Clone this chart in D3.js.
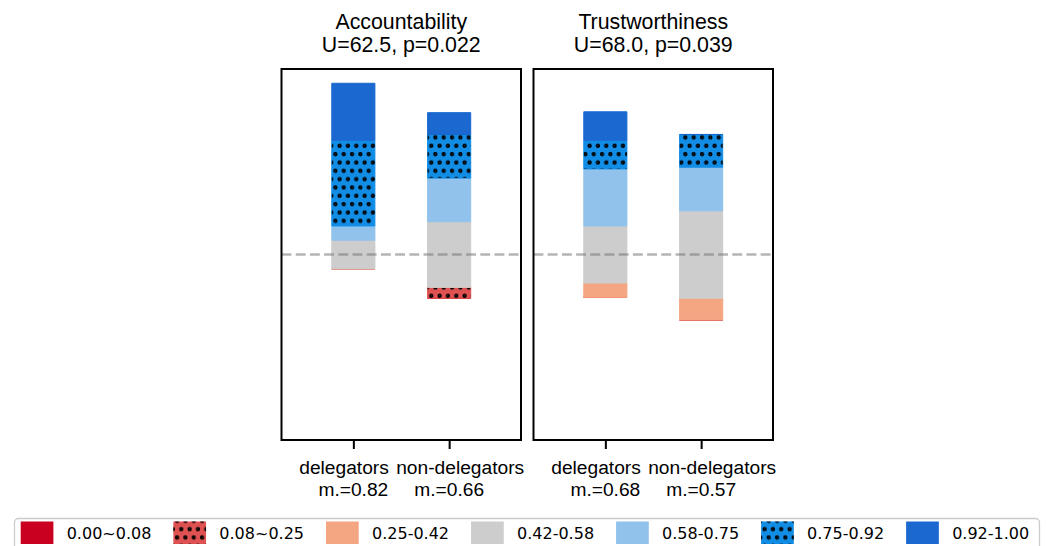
<!DOCTYPE html>
<html>
<head>
<meta charset="utf-8">
<script src="https://cdn.jsdelivr.net/npm/d3@7"></script>
<style>
  html, body { margin: 0; padding: 0; background: #fff; }
  svg { display: block; }
</style>
</head>
<body>
<svg id="chart" width="1046" height="546"></svg>
<script>
// Score bins (Likert-style ratings rescaled to 0..1)
const binLabels = ["0.00~0.08", "0.08~0.25", "0.25-0.42", "0.42-0.58", "0.58-0.75", "0.75-0.92", "0.92-1.00"];
const binColors = ["#ca0020", "#df5251", "#f4a582", "#cdcdcd", "#90c2eb", "#128de6", "#1a68d0"];
const binHatched = [false, true, false, false, false, true, false];
const neutralBin = 3;

// Panels
const metrics = ["Accountability", "Trustworthiness"];
const testStats = ["U=62.5, p=0.022", "U=68.0, p=0.039"];
const groups = ["delegators", "non-delegators"];
const groupMeans = [[0.82, 0.66], [0.68, 0.57]];

// Respondent counts per bin: [delegators, non-delegators]
const accountabilityCounts = [[0, 0, 0, 2, 1, 6, 4], [0, 1, 0, 6, 4, 4, 2]];
const trustworthinessCounts = [[0, 0, 1, 4, 4, 2, 2], [0, 0, 2, 8, 4, 3, 0]];
const panelCounts = [accountabilityCounts, trustworthinessCounts];

const svg = d3.select("#chart");
const defs = svg.append("defs");

// Dot hatch used on two of the bins
const pat = defs.append("pattern")
  .attr("id", "dots")
  .attr("patternUnits", "userSpaceOnUse")
  .attr("width", 8.333).attr("height", 16.667);
[[2.08, 4.17], [6.25, 12.5]].forEach(([cx, cy]) => {
  pat.append("circle").attr("cx", cx).attr("cy", cy).attr("r", 1.3)
    .attr("fill", "none").attr("stroke", "#000").attr("stroke-width", 1.7);
});

const plotTop = 69, plotBottom = 440;
const panelX = [[281.5, 521], [533.5, 773]];
const barWidth = 0.45;
const titleFont = "'Liberation Sans', Arial, Helvetica, sans-serif";
const tickFontSize = 19.2;

const y = d3.scaleLinear().domain([-100, 100]).range([plotBottom, plotTop]);

function segPath(xl, xr, y0, y1) {
  const p = d3.path();
  p.moveTo(xl, y1); p.lineTo(xr, y1); p.lineTo(xr, y0); p.lineTo(xl, y0); p.closePath();
  return p.toString();
}

metrics.forEach((metric, pi) => {
  const [x0, x1] = panelX[pi];
  const x = d3.scaleLinear().domain([-0.75, 1.75]).range([x0, x1]);
  const g = svg.append("g");

  groups.forEach((grp, gi) => {
    const counts = panelCounts[pi][gi];
    const n = d3.sum(counts);
    const pct = counts.map(c => c / n * 100);
    // diverging stack: neutral bin is split around zero
    let base = -(d3.sum(pct.slice(0, neutralBin)) + pct[neutralBin] / 2);
    const xl = x(gi - barWidth / 2), xr = x(gi + barWidth / 2);
    pct.forEach((v, bi) => {
      const d = segPath(xl, xr, y(base), y(base + v));
      g.append("path").attr("d", d)
        .attr("fill", binColors[bi])
        .attr("stroke", binColors[bi]).attr("stroke-width", 1);
      if (binHatched[bi] && v > 0) {
        g.append("path").attr("d", d).attr("fill", "url(#dots)");
      }
      base += v;
    });
  });

  // zero reference line
  g.append("line")
    .attr("x1", x0).attr("x2", x1)
    .attr("y1", y(0)).attr("y2", y(0))
    .attr("stroke", "#777").attr("stroke-opacity", 0.55)
    .attr("stroke-width", 2.6).attr("stroke-dasharray", "9.9,4.3");

  // frame
  g.append("rect")
    .attr("x", x0).attr("y", plotTop)
    .attr("width", x1 - x0).attr("height", plotBottom - plotTop)
    .attr("fill", "none").attr("stroke", "#000").attr("stroke-width", 2);

  // x axis ticks and two-line labels
  const axis = d3.axisBottom(x).tickValues([0, 1]).tickSize(9).tickSizeOuter(0).tickFormat("");
  const ax = g.append("g").attr("transform", `translate(0,${plotBottom})`).call(axis);
  ax.select(".domain").remove();
  ax.selectAll(".tick line").attr("stroke", "#000").attr("stroke-width", 2);

  // group names are pushed apart (left one ends right of its tick, right one
  // starts left of its tick); the mean line sits centred under the tick
  const nameAnchor = ["end", "start"];
  const nameOffset = [35.5, -53];
  groups.forEach((grp, gi) => {
    const tx = x(gi);
    g.append("text")
      .attr("x", tx + nameOffset[gi]).attr("y", 474)
      .attr("text-anchor", nameAnchor[gi])
      .attr("font-family", titleFont).attr("font-size", tickFontSize).attr("fill", "#000")
      .text(grp);
    g.append("text")
      .attr("x", tx).attr("y", 495.5)
      .attr("text-anchor", "middle")
      .attr("font-family", titleFont).attr("font-size", tickFontSize).attr("fill", "#000")
      .text("m.=" + groupMeans[pi][gi].toFixed(2));
  });

  // title
  const cx = (x0 + x1) / 2;
  const title = g.append("text")
    .attr("x", cx).attr("y", 28.5)
    .attr("text-anchor", "middle")
    .attr("font-family", titleFont).attr("font-size", 21.33).attr("fill", "#000");
  title.append("tspan").attr("x", cx).attr("dy", 0).text(metric);
  title.append("tspan").attr("x", cx).attr("dy", 23.5).text(testStats[pi]);
});

// legend along the bottom edge
const legend = svg.append("g");
legend.append("rect")
  .attr("x", 14.5).attr("y", 518.5).attr("width", 1025).attr("height", 40)
  .attr("rx", 4).attr("fill", "#fff").attr("fill-opacity", 0.8)
  .attr("stroke", "#cccccc").attr("stroke-width", 1.3);

let lx = 20.7;
binLabels.forEach((lab, bi) => {
  legend.append("rect")
    .attr("x", lx).attr("y", 521.5).attr("width", 32.7).attr("height", 22.5)
    .attr("fill", binColors[bi]);
  if (binHatched[bi]) {
    legend.append("rect")
      .attr("x", lx).attr("y", 521.5).attr("width", 32.7).attr("height", 22.5)
      .attr("fill", "url(#dots)");
  }
  const t = legend.append("text")
    .attr("x", lx + 46).attr("y", 538.5)
    .attr("font-family", "'DejaVu Sans', sans-serif").attr("font-size", 16).attr("fill", "#000")
    .text(lab);
  lx += 46 + t.node().getComputedTextLength() + 22;
});
</script>
</body>
</html>
